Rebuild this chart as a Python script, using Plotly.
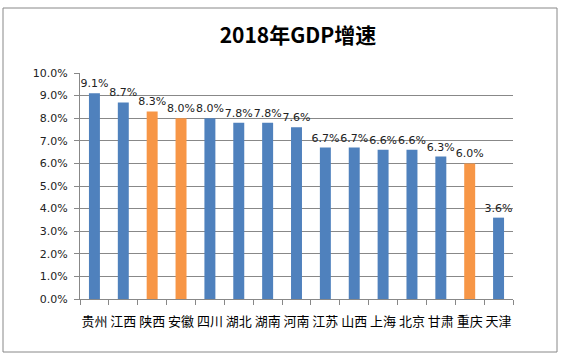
import plotly.graph_objects as go

provinces = ["贵州", "江西", "陕西", "安徽", "四川", "湖北", "湖南", "河南", "江苏", "山西", "上海", "北京", "甘肃", "重庆", "天津"]
growth = [9.1, 8.7, 8.3, 8.0, 8.0, 7.8, 7.8, 7.6, 6.7, 6.7, 6.6, 6.6, 6.3, 6.0, 3.6]
highlight = ["陕西", "安徽", "重庆"]
y_ticks = [0, 1, 2, 3, 4, 5, 6, 7, 8, 9, 10]

BLUE = "#4F81BD"
ORANGE = "#F79646"
colors = [ORANGE if p in highlight else BLUE for p in provinces]
values = [g / 100 for g in growth]

W, H = 561, 358
L, R, T, B = 80, 513, 73, 299

fig = go.Figure(go.Bar(
    x=provinces, y=values,
    marker=dict(color=colors, line=dict(width=0)),
    texttemplate="%{y:.1%}", textposition="outside",
    constraintext="none",
    textfont=dict(family="DejaVu Sans", size=11, color="#222"),
    cliponaxis=False, width=0.38,
))

fig.update_layout(
    width=W, height=H,
    margin=dict(l=L, r=W - R, t=T, b=H - B, pad=0, autoexpand=False),
    paper_bgcolor="white", plot_bgcolor="white",
    showlegend=False,
    title=dict(text="<b>2018年GDP增速</b>", x=298 / W, xanchor="center",
               y=1 - 36 / H, yanchor="middle",
               font=dict(family="Noto Sans CJK SC", size=21, color="black")),
    xaxis=dict(showline=True, linecolor="#888", linewidth=1,
               ticks="outside", ticklen=5, tickcolor="#888",
               tickson="boundaries", tickangle=0, automargin=False,
               ticklabelstandoff=10,
               tickfont=dict(family="Noto Sans CJK SC", size=13, color="black"),
               showgrid=False),
    yaxis=dict(range=[0, 0.1], tickvals=[v / 100 for v in y_ticks], tickformat=".1%",
               showline=True, linecolor="#888", linewidth=1,
               ticks="outside", ticklen=5, tickcolor="#888",
               ticklabelstandoff=4,
               gridcolor="#888", gridwidth=1, zeroline=False, automargin=False,
               tickfont=dict(family="DejaVu Sans", size=11, color="#222")),
    bargap=0.62,
    shapes=[dict(type="rect", xref="paper", yref="paper",
                 x0=(3 - L) / (R - L), x1=(557 - L) / (R - L),
                 y0=(B - 352) / (B - T), y1=(B - 8) / (B - T),
                 line=dict(color="#888", width=1), fillcolor="rgba(0,0,0,0)", layer="below")],
)

fig.write_html("out.html", config={"displayModeBar": False},
               post_script="document.body.style.margin='0';")
